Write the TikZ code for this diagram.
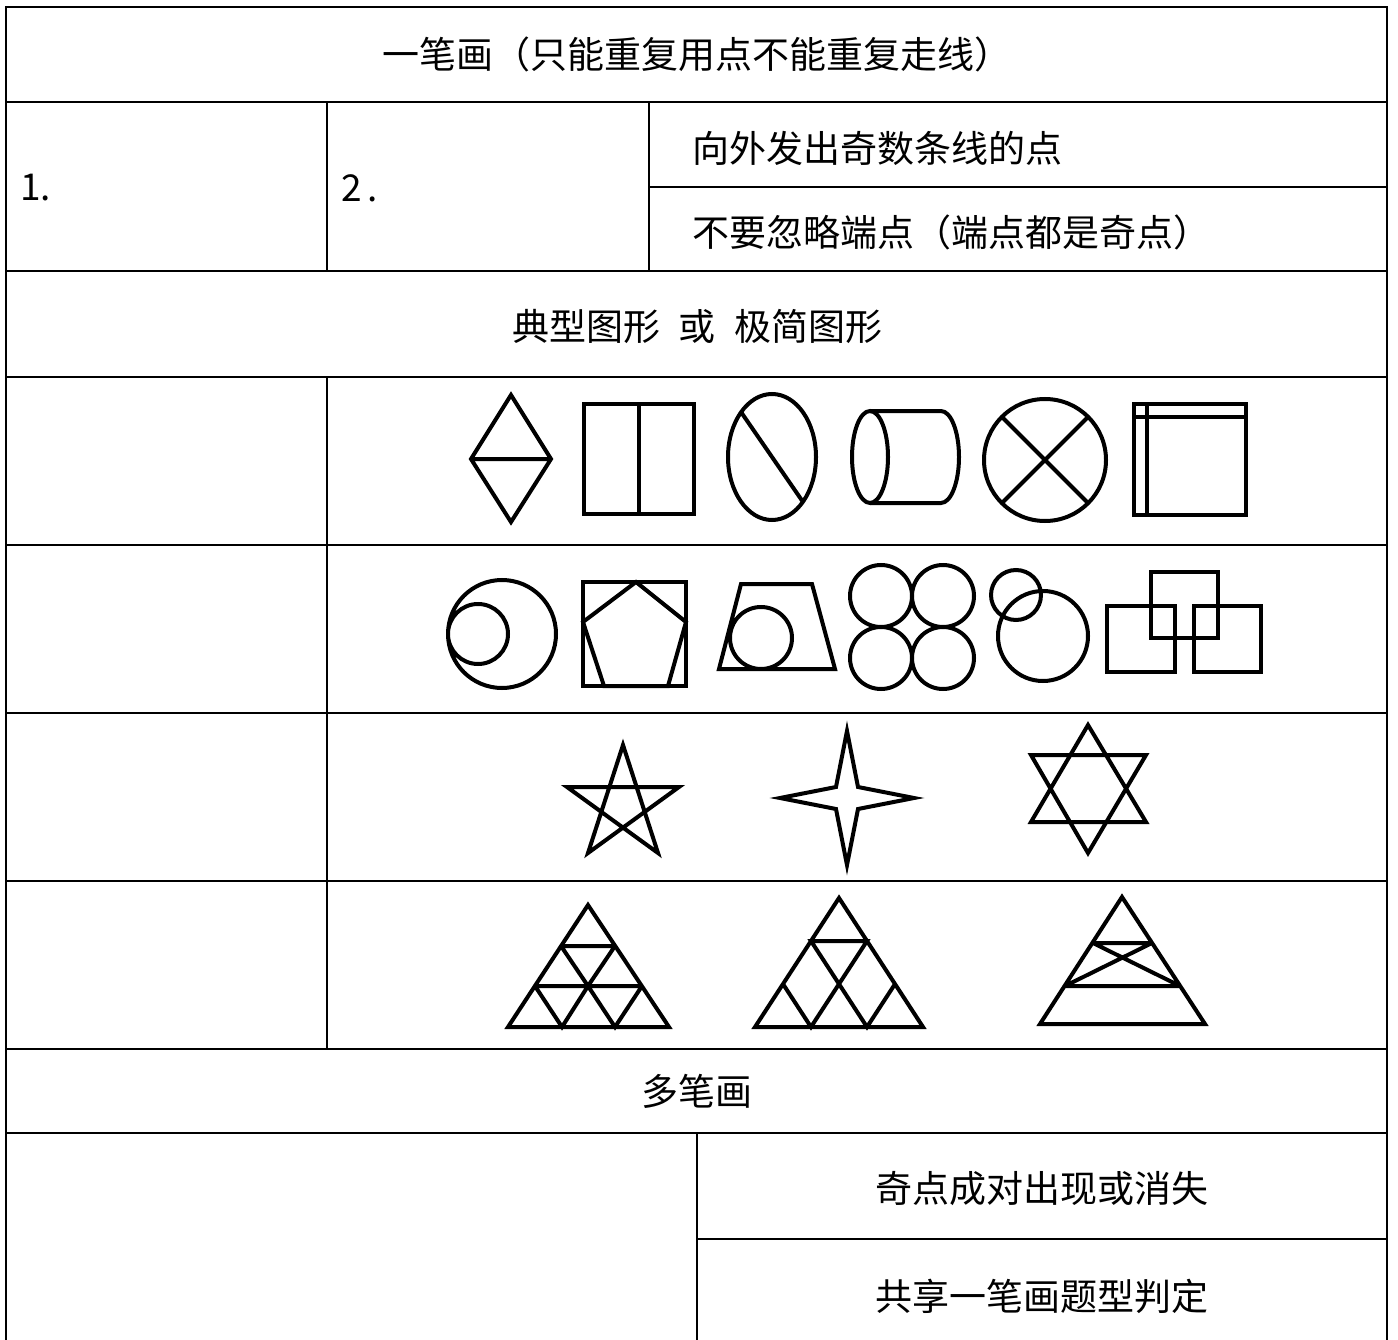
\documentclass[tikz,border=0pt]{standalone}
\usepackage{fontspec}
\setmainfont{Noto Sans CJK SC}
\usepackage{tikz}
\usetikzlibrary{calc}

\begin{document}
\begin{tikzpicture}[x=1pt,y=-1pt,
    grid/.style={line width=2.4pt},
    fig/.style={line width=4pt},
    lbl/.style={font=\fontsize{37}{44}\selectfont,inner sep=0pt}]
    \useasboundingbox (0,0) rectangle (1398,1340);
    % table
    \draw[grid] (6,1340) -- (6,7) -- (1387,7) -- (1387,1340);
    \foreach \y in {102,271,377,545,713,881,1049,1133}
        \draw[grid] (6,\y) -- (1387,\y);
    \draw[grid] (649,187) -- (1387,187) (697,1239) -- (1387,1239);
    \draw[grid] (327,102) -- (327,271) (649,102) -- (649,271);
    \draw[grid] (327,377) -- (327,1049) (697,1133) -- (697,1340);
    % texts
    \node[lbl] (title) at (697,54) {一笔画（只能重复用点不能重复走线）};
    \node[lbl,anchor=west] (one) at (20,188) {1.};
    \node[lbl,anchor=west] (two) at (341,188) {2\,.};
    \node[lbl,anchor=west] (odd) at (692,148) {向外发出奇数条线的点};
    \node[lbl,anchor=west] (ends) at (692,232) {不要忽略端点（端点都是奇点）};
    \node[lbl] (typical) at (697,326) {典型图形\hspace{0.5em}或\hspace{0.5em}极简图形};
    \node[lbl] (multi) at (697,1091) {多笔画};
    \node[lbl] (pairs) at (1042,1189) {奇点成对出现或消失};
    \node[lbl] (shared) at (1042,1296) {共享一笔画题型判定};
    % row 1
    \draw[fig] (511,395) -- (551,459) -- (511,522) -- (471,459) -- cycle (471,459) -- (551,459);
    \draw[fig] (584,404) rectangle (694,514) (639,404) -- (639,514);
    \draw[fig] (772,457) ellipse (44pt and 63pt) (741,412) -- (803,502);
    \draw[fig] (870,457) ellipse (18pt and 46pt);
    \draw[fig] (870,411) -- (941,411) arc (90:-90:18pt and 46pt) -- (870,503);
    \draw[fig] (1045,460) circle (61pt) (1002,417) -- (1088,503) (1088,417) -- (1002,503);
    \draw[fig] (1134,404) rectangle (1246,515) (1134,417) -- (1246,417) (1147,404) -- (1147,515);
    % row 2
    \draw[fig] (502,634) circle (54pt) (478,634) circle (30pt);
    \draw[fig] (583,582) rectangle (686,686);
    \draw[fig] (636,582) -- (686,622) -- (668,686) -- (604,686) -- (583,622) -- cycle;
    \draw[fig] (741,584) -- (812,584) -- (835,669) -- (719,669) -- cycle (761,638) circle (31pt);
    \foreach \x in {881,943}
        \foreach \y in {596,658}
            \draw[fig] (\x,\y) circle (31pt);
    \draw[fig] (1016,595) circle (25pt) (1043,636) circle (45pt);
    \draw[fig] (1107,606) rectangle (1175,672) (1194,606) rectangle (1261,672) (1151,572) rectangle (1218,638);
    % row 3
    \draw[fig] (623,745) -- (588,853) -- (679,787) -- (567,787) -- (658,853) -- cycle;
    \draw[fig] (847,731) -- (858,787) -- (914,798) -- (858,809) -- (847,865) -- (836,809) -- (780,798) -- (836,787) -- cycle;
    \draw[fig] (1088,725) -- (1146,822) -- (1031,822) -- cycle (1031,755) -- (1146,755) -- (1088,853) -- cycle;
    % row 4
    \draw[fig] (588,905) -- (669,1027) -- (508,1027) -- cycle
        (561,946) -- (615,946) (535,986) -- (642,986)
        (561,946) -- (588,986) -- (615,946)
        (535,986) -- (562,1027) -- (588,986) -- (615,1027) -- (642,986);
    \draw[fig] (839,898) -- (923,1027) -- (755,1027) -- cycle
        (811,941) -- (867,941) -- (839,984) -- cycle
        (783,984) -- (811,1027) -- (839,984) -- (867,1027) -- (895,984);
    \draw[fig] (1122,897) -- (1205,1024) -- (1040,1024) -- cycle
        (1093,943) -- (1152,943) (1065,986) -- (1180,986)
        (1093,943) -- (1180,986) (1152,943) -- (1065,986);
\end{tikzpicture}
\end{document}
